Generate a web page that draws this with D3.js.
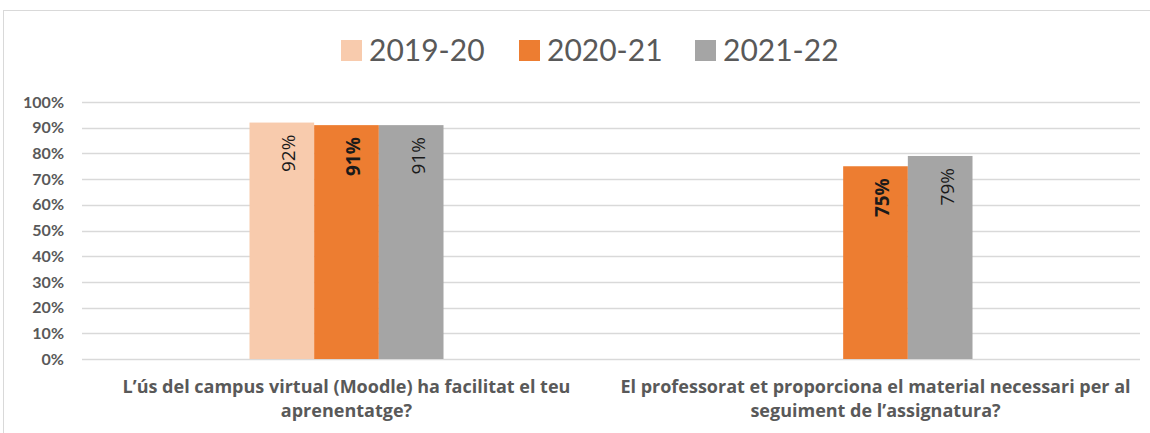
<!DOCTYPE html>
<html>
<head>
<meta charset="utf-8">
<script src="https://cdn.jsdelivr.net/npm/d3@7"></script>
<style>
  body { margin: 0; background: #fff; }
</style>
</head>
<body>
<div id="viz"></div>
<script>
const width = 1150;
const height = 433;
const margin = {top: 102, right: 10, bottom: 74, left: 82};

// data
const categories = [
    ['L\u2019ús del campus virtual (Moodle) ha facilitat el teu', 'aprenentatge?'],
    ['El professorat et proporciona  el material necessari per al', 'seguiment de l\u2019assignatura?']
];
const seriesNames = ['2019-20', '2020-21', '2021-22'];
const values2019 = [0.92, null];
const values2020 = [0.91, 0.75];
const values2021 = [0.91, 0.79];
const tickValues = [0, 0.1, 0.2, 0.3, 0.4, 0.5, 0.6, 0.7, 0.8, 0.9, 1];

const colors = ['#F8CBAD', '#ED7D31', '#A5A5A5'];
const labelBold = [false, true, false];

const allSeries = [values2019, values2020, values2021];

const svg = d3.select('#viz')
    .append('svg')
        .attr('width', width)
        .attr('height', height)
        .style('font-family', 'Lato, sans-serif');

// outer frame
svg.append('rect')
    .attr('x', 3.5)
    .attr('y', 10.5)
    .attr('width', 1150)
    .attr('height', 440)
    .attr('fill', 'none')
    .attr('stroke', '#d9d9d9');

const x0 = d3.scaleBand()
    .domain(d3.range(categories.length))
    .range([margin.left, width - margin.right])
    .padding(0);

const x1 = d3.scaleBand()
    .domain(seriesNames)
    .range([0, x0.bandwidth()])
    .paddingInner(0)
    .paddingOuter(2.59);

const y = d3.scaleLinear()
    .domain([0, 1])
    .range([height - margin.bottom, margin.top]);

// gridlines
svg.append('g')
    .selectAll('line')
    .data(tickValues)
    .join('line')
        .attr('x1', margin.left)
        .attr('x2', width - margin.right)
        .attr('y1', d => Math.round(y(d)) + 0.5)
        .attr('y2', d => Math.round(y(d)) + 0.5)
        .attr('stroke', '#d9d9d9')
        .attr('stroke-width', 1.5);

// y axis labels
const yAxis = svg.append('g')
    .attr('transform', `translate(${margin.left}, 0)`)
    .call(d3.axisLeft(y).tickValues(tickValues).tickFormat(d3.format('.0%')).tickSize(0).tickPadding(18));
yAxis.select('.domain').remove();
yAxis.selectAll('text')
    .style('font-family', 'Lato, sans-serif')
    .style('font-size', '16px')
    .style('font-weight', 'bold')
    .attr('fill', '#595959');

// bars
const barData = [];
allSeries.forEach((vals, si) => {
    vals.forEach((v, ci) => {
        if (v != null) barData.push({series: seriesNames[si], si: si, ci: ci, value: v});
    });
});

svg.append('g')
    .selectAll('rect')
    .data(barData)
    .join('rect')
        .attr('x', d => x0(d.ci) + x1(d.series))
        .attr('y', d => y(d.value))
        .attr('width', x1.bandwidth())
        .attr('height', d => y(0) - y(d.value))
        .attr('fill', d => colors[d.si]);

// value labels, rotated
svg.append('g')
    .selectAll('text')
    .data(barData)
    .join('text')
        .attr('transform', d => {
            const cx = x0(d.ci) + x1(d.series) + x1.bandwidth() / 2 + 7;
            const ty = y(d.value) + 12;
            return `translate(${cx}, ${ty}) rotate(-90)`;
        })
        .attr('text-anchor', 'end')
        .attr('dy', '0.35em')
        .style('font-family', '"Open Sans", sans-serif')
        .style('font-size', '19px')
        .style('font-weight', d => labelBold[d.si] ? 'bold' : 'normal')
        .attr('fill', '#1a1a1a')
        .text(d => d3.format('.0%')(d.value));

// category labels
const catLabels = svg.append('g')
    .selectAll('text')
    .data(categories)
    .join('text')
        .attr('x', (d, i) => x0(i) + x0.bandwidth() / 2)
        .attr('y', 393)
        .attr('text-anchor', 'middle')
        .style('font-family', '"Open Sans", sans-serif')
        .style('font-size', '18px')
        .style('font-weight', 'bold')
        .attr('fill', '#595959');
catLabels.selectAll('tspan')
    .data(d => d)
    .join('tspan')
        .attr('x', function () { return d3.select(this.parentNode).attr('x'); })
        .attr('dy', (d, i) => i === 0 ? 0 : 24)
        .text(d => d);

// legend
const legendX = [341, 519, 695];
const legend = svg.append('g')
    .selectAll('g')
    .data(seriesNames)
    .join('g')
        .attr('transform', (d, i) => `translate(${legendX[i]}, 40)`);
legend.append('rect')
    .attr('width', 21)
    .attr('height', 21)
    .attr('fill', (d, i) => colors[i]);
legend.append('text')
    .attr('x', 28)
    .attr('y', 21)
    .style('font-size', '30px')
    .attr('fill', '#595959')
    .text(d => d);
</script>
</body>
</html>
